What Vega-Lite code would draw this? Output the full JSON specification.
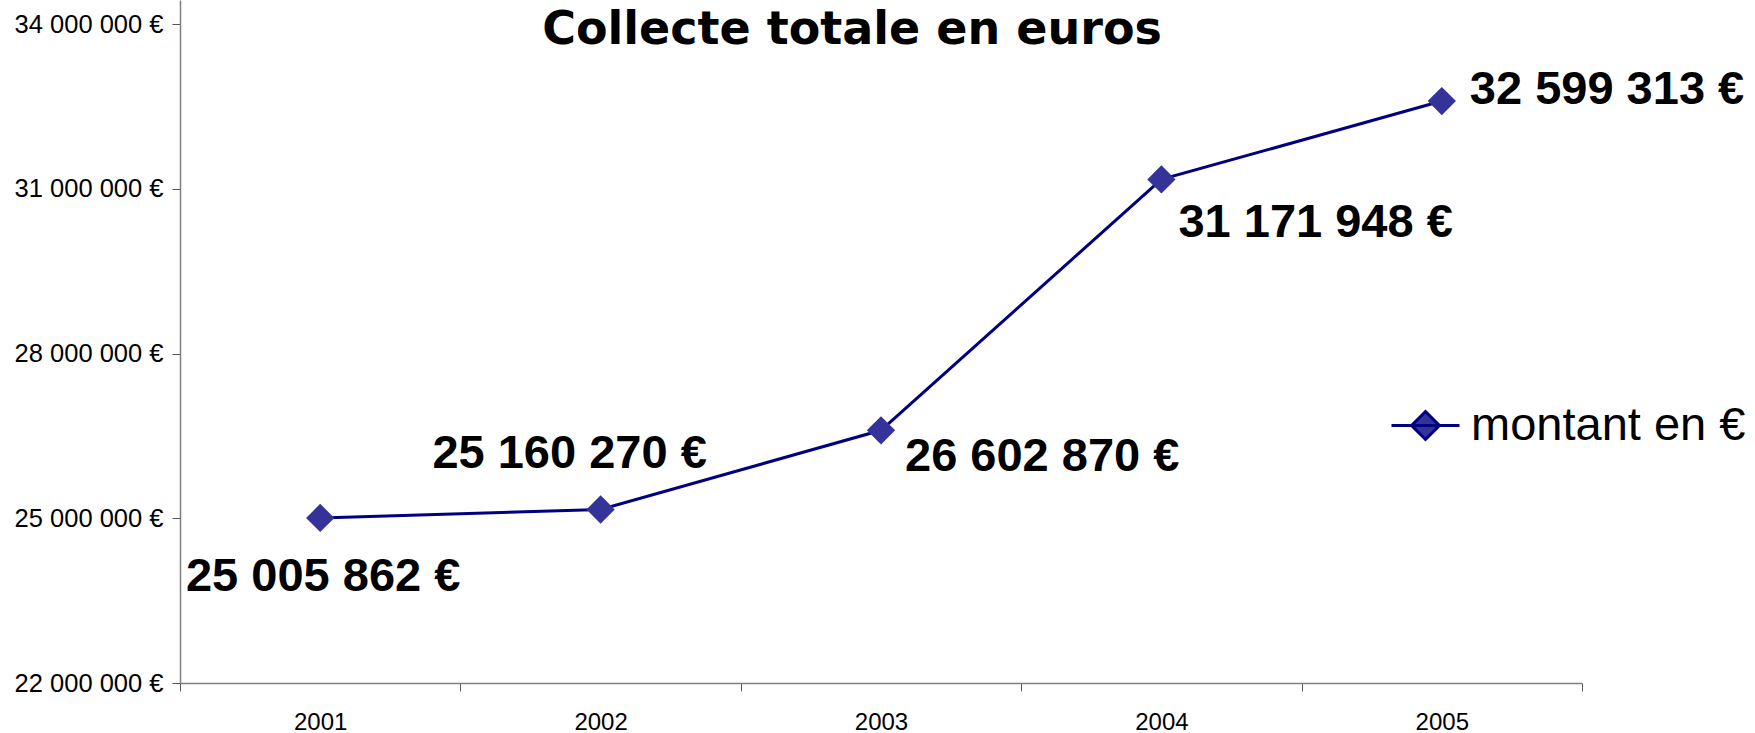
{
  "$schema": "https://vega.github.io/schema/vega-lite/v6.json",
  "autosize": {"type": "none"},
  "padding": {"left": 180, "top": 0, "right": 173, "bottom": 50},
  "width": 1402,
  "height": 683,
  "background": "white",
  "title": {
    "text": "Collecte totale en euros",
    "anchor": "middle",
    "orient": "top",
    "frame": "group",
    "baseline": "alphabetic",
    "offset": -90,
    "dx": -29,
    "font": "DejaVu Sans",
    "fontSize": 46,
    "fontWeight": "bold",
    "color": "black"
  },
  "data": {
    "values": [
      {"annee": "2001", "montant": 25005862, "serie": "montant en €"},
      {"annee": "2002", "montant": 25160270, "serie": "montant en €"},
      {"annee": "2003", "montant": 26602870, "serie": "montant en €"},
      {"annee": "2004", "montant": 31171948, "serie": "montant en €"},
      {"annee": "2005", "montant": 32599313, "serie": "montant en €"}
    ]
  },
  "encoding": {
    "x": {
      "field": "annee",
      "type": "ordinal",
      "scale": {"type": "band", "paddingInner": 0, "paddingOuter": 0},
      "axis": {
        "title": null,
        "labelAngle": 0,
        "tickBand": "extent",
        "tickSize": 8,
        "labelPadding": 19,
        "labelBaseline": "top",
        "labelFont": "Liberation Sans",
        "labelFontSize": 24,
        "labelColor": "black",
        "domainColor": "#808080",
        "domainWidth": 1.5,
        "tickColor": "#555555",
        "tickWidth": 1
      }
    },
    "y": {
      "field": "montant",
      "type": "quantitative",
      "scale": {"domain": [22000000, 34440000], "nice": false, "zero": false},
      "axis": {
        "title": null,
        "grid": false,
        "values": [22000000, 25000000, 28000000, 31000000, 34000000],
        "format": "$,d",
        "tickSize": 8,
        "labelPadding": 9,
        "labelFont": "Liberation Sans",
        "labelFontSize": 25.5,
        "labelColor": "black",
        "domainColor": "#808080",
        "domainWidth": 1.5,
        "tickColor": "#555555",
        "tickWidth": 1
      }
    }
  },
  "layer": [
    {
      "mark": {"type": "line", "strokeWidth": 3},
      "encoding": {
        "color": {
          "field": "serie",
          "type": "nominal",
          "scale": {"range": ["#000080"]},
          "legend": {
            "title": null,
            "orient": "none",
            "legendX": 1210,
            "legendY": 390,
            "padding": 0,
            "symbolType": "M-1,0H1M0,-0.41L0.41,0L0,0.41L-0.41,0Z",
            "symbolSize": 4624,
            "symbolStrokeWidth": 3,
            "labelFont": "Liberation Sans",
            "labelFontSize": 47,
            "labelColor": "black",
            "labelOffset": 10,
            "labelLimit": 0,
            "encode": {
              "symbols": {
                "update": {
                  "fill": {"value": "#333399"},
                  "stroke": {"value": "#000080"},
                  "opacity": {"value": 1}
                }
              }
            }
          }
        }
      }
    },
    {
      "mark": {"type": "point", "shape": "diamond", "filled": true, "size": 800, "color": "#333399", "opacity": 1}
    },
    {
      "transform": [{"filter": "datum.annee == '2001'"}],
      "mark": {"type": "text", "align": "center", "baseline": "middle", "dx": 3, "dy": 59, "font": "Liberation Sans", "fontSize": 47, "fontWeight": "bold", "color": "black"},
      "encoding": {"text": {"field": "montant", "type": "quantitative", "format": "$,d"}}
    },
    {
      "transform": [{"filter": "datum.annee == '2002'"}],
      "mark": {"type": "text", "align": "center", "baseline": "middle", "dx": -31, "dy": -55, "font": "Liberation Sans", "fontSize": 47, "fontWeight": "bold", "color": "black"},
      "encoding": {"text": {"field": "montant", "type": "quantitative", "format": "$,d"}}
    },
    {
      "transform": [{"filter": "datum.annee == '2003'"}],
      "mark": {"type": "text", "align": "left", "baseline": "middle", "dx": 24, "dy": 27, "font": "Liberation Sans", "fontSize": 47, "fontWeight": "bold", "color": "black"},
      "encoding": {"text": {"field": "montant", "type": "quantitative", "format": "$,d"}}
    },
    {
      "transform": [{"filter": "datum.annee == '2004'"}],
      "mark": {"type": "text", "align": "left", "baseline": "middle", "dx": 17, "dy": 44, "font": "Liberation Sans", "fontSize": 47, "fontWeight": "bold", "color": "black"},
      "encoding": {"text": {"field": "montant", "type": "quantitative", "format": "$,d"}}
    },
    {
      "transform": [{"filter": "datum.annee == '2005'"}],
      "mark": {"type": "text", "align": "left", "baseline": "middle", "dx": 28, "dy": -11, "font": "Liberation Sans", "fontSize": 47, "fontWeight": "bold", "color": "black"},
      "encoding": {"text": {"field": "montant", "type": "quantitative", "format": "$,d"}}
    }
  ],
  "config": {
    "view": {"stroke": null},
    "locale": {
      "number": {
        "decimal": ",",
        "thousands": " ",
        "grouping": [3],
        "currency": ["", " €"]
      }
    }
  }
}
